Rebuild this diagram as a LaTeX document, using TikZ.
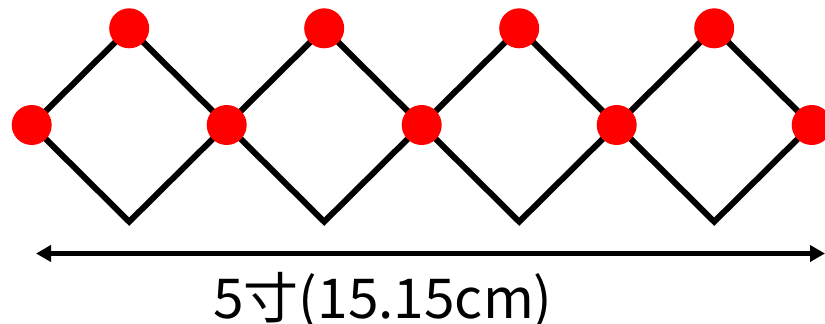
\documentclass[tikz,border=0pt]{standalone}
\usepackage{fontspec}
\newfontfamily\jpfont{Noto Sans CJK JP}
\usetikzlibrary{arrows.meta}
\tikzset{
    % lattice bars and joints
    bar/.style={
        draw=black,
        line width=6pt,
        line join=miter
    },
    joint/.style={
        circle,
        fill=red,
        minimum size=40pt,
        inner sep=0pt
    },
    % dimension arrow
    dimarrow/.style={
        {Triangle[length=15pt,width=16pt]}-{Triangle[length=15pt,width=16pt]},
        line width=5pt,
        draw=black
    }
}

\begin{document}
\begin{tikzpicture}[x=1pt, y=-1pt]
    \useasboundingbox (0,0) rectangle (825,324);
    \clip (0,0) rectangle (825,324);

    % vertices of the lattice
    \foreach \i in {0,...,4} {
        \coordinate (m\i) at (31.7+195*\i,125);
    }
    \foreach \i in {1,...,4} {
        \coordinate (t\i) at (31.7+195*\i-97.5,28.3);
        \coordinate (b\i) at (31.7+195*\i-97.5,221.7);
    }

    % bars
    \draw[bar] (m0) -- (t1) -- (m1) -- (b1) -- cycle;
    \draw[bar] (m1) -- (t2) -- (m2) -- (b2) -- cycle;
    \draw[bar] (m2) -- (t3) -- (m3) -- (b3) -- cycle;
    \draw[bar] (m3) -- (t4) -- (m4) -- (b4) -- cycle;

    % joints
    \foreach \i in {0,...,4} {
        \node[joint] (jm\i) at (m\i) {};
    }
    \foreach \i in {1,...,4} {
        \node[joint] (jt\i) at (t\i) {};
    }

    % overall length
    \coordinate (aL) at (36,253.5);
    \coordinate (aR) at (825,253.5);
    \draw[dimarrow] (aL) -- (aR);
    \node[anchor=base, font=\jpfont\fontsize{55pt}{60pt}\selectfont, inner sep=0pt] (len) at (383,318) {5寸(15.15cm)};
\end{tikzpicture}
\end{document}
